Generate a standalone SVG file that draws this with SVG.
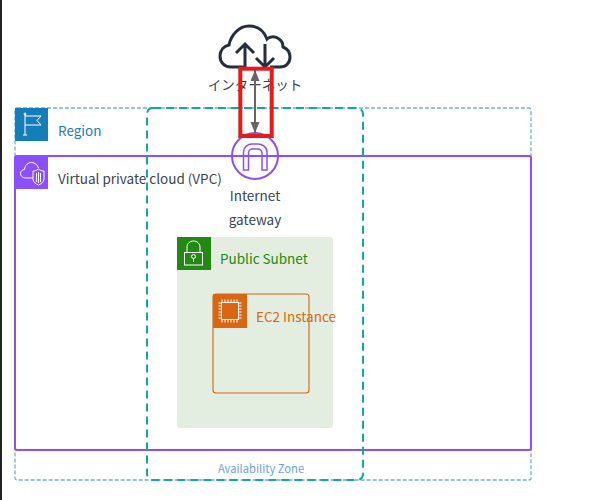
<svg xmlns="http://www.w3.org/2000/svg" width="598" height="500" viewBox="0 0 598 500">
<style>
text{font-family:"Noto Sans CJK JP","Noto Sans","Liberation Sans",sans-serif;font-size:13.500px}
.w{fill:none;stroke:#fff;stroke-width:1}
.k{fill:#3a4450}
</style>
<defs>
<marker id="ah" markerWidth="12" markerHeight="10" refX="11" refY="4.500" orient="auto-start-reverse" markerUnits="userSpaceOnUse"><path d="M0 0L11 4.500L0 9Z" fill="#666"/></marker>
</defs>
<rect width="598" height="500" fill="#fff"/>
<rect x="0" y="0" width="2" height="500" fill="#222"/>
<g id="region">
<rect x="15" y="108" width="516" height="372" rx="2" fill="none" stroke="#6fb1d6" stroke-width="1.300" stroke-dasharray="4 2"/>
<rect x="15" y="108" width="33" height="33" fill="#147eba"/>
<path class="w" d="M25 114V135M23 135H27M25 116H41L37 120.500L41 125H25"/>
<circle class="w" cx="25" cy="114" r="1"/>
<text x="58" y="136" fill="#147eba">Region</text>
</g>
<g id="vpc">
<rect x="15" y="156" width="516" height="294" rx="2" fill="none" stroke="#8c4fff" stroke-width="2"/>
<rect x="15" y="156" width="33" height="33" fill="#8c4fff"/>
<path class="w" d="M33 178H26C22 178 20.500 175.500 20.500 173.500C20.500 171 22.500 169.500 24.500 169.500C25 165 28 162.500 31.500 162.500C35 162.500 37.500 165 38.500 168"/>
<path class="w" d="M38.500 169C41 171 43 171 44 171V179C44 182 41 184 38.500 185C36 184 33 182 33 179V171C34 171 36 171 38.500 169Z"/>
<path class="w" d="M36.500 173V182M38.500 172V183M40.500 173V182"/>
<text x="58" y="184" class="k">Virtual private cloud (VPC)</text>
</g>
<g id="az">
<rect x="147" y="108" width="216" height="372" rx="6" fill="none" stroke="#12a8a8" stroke-width="2" stroke-dasharray="8 5"/>
<text x="261" y="473" text-anchor="middle" fill="#6ba5dd" style="font-size:11.200px">Availability Zone</text>
</g>
<g id="subnet">
<rect x="177" y="237" width="156" height="191" rx="3" fill="#e3eee0"/>
<rect x="177" y="237" width="34" height="33" fill="#248814"/>
<rect class="w" x="184.500" y="252.500" width="18" height="12.500"/>
<path class="w" d="M187 252.500V247C187 243.500 190 241 193.500 241C197 241 200 243.500 200 247V252.500"/>
<circle class="w" cx="193.500" cy="256.500" r="2"/>
<path class="w" d="M193.500 258.500V262"/>
<text x="220" y="264" fill="#248814">Public Subnet</text>
</g>
<g id="ec2">
<rect x="213" y="294" width="96" height="99" rx="3" fill="none" stroke="#d86613" stroke-width="1.100"/>
<rect x="213" y="294" width="34" height="34" fill="#d86613"/>
<rect x="221.500" y="302.500" width="17" height="17" fill="#d86613" stroke="#fff"/>
<path class="w" d="M222 299.500V302M225 299.500V302M228 299.500V302M231 299.500V302M234 299.500V302M237 299.500V302M222 320V322.500M225 320V322.500M228 320V322.500M231 320V322.500M234 320V322.500M237 320V322.500M218.500 303H221M218.500 306H221M218.500 309H221M218.500 312H221M218.500 315H221M218.500 318H221M239 303H241.500M239 306H241.500M239 309H241.500M239 312H241.500M239 315H241.500M239 318H241.500"/>
<text x="256" y="322" fill="#d86613">EC2 Instance</text>
</g>
<g id="internet">
<path d="M244 67H231C224 67 220 62 220 56C220 50 224 46 229 45C231 35 239 26 249 26C258 26 264 31 267 39C270 36 276 36 279 39C282 41 283 44 283 47C288 49 290 53 290 57C290 63 286 67 280 67H270" fill="none" stroke="#232f3e" stroke-width="3"/>
<path d="M245 67V44M236 53L245 44L254 53M265 44V67M256 58L265 67L274 58" fill="none" stroke="#232f3e" stroke-width="3"/>
<text x="255" y="90" text-anchor="middle" class="k">インターネット</text>
</g>
<g id="gateway">
<circle cx="255" cy="156" r="23" fill="none" stroke="#8c4fff" stroke-width="2"/>
<path d="M243.500 170V152C243.500 147 248 144 252 144H258C262 144 267 147 267 152V170H262V153C262 151 260 149 258 149H252C250 149 248.500 151 248.500 153V170Z" fill="none" stroke="#8c4fff" stroke-width="1.500"/>
<text x="255" y="201" text-anchor="middle" class="k">Internet</text>
<text x="255" y="225" text-anchor="middle" class="k">gateway</text>
</g>
<g id="connectors">
<path d="M255 70V133" fill="none" stroke="#666" stroke-width="2" marker-start="url(#ah)" marker-end="url(#ah)"/>
<rect x="240.300" y="68.700" width="31.400" height="67.300" fill="none" stroke="#e51c1c" stroke-width="4"/>
</g>
</svg>
